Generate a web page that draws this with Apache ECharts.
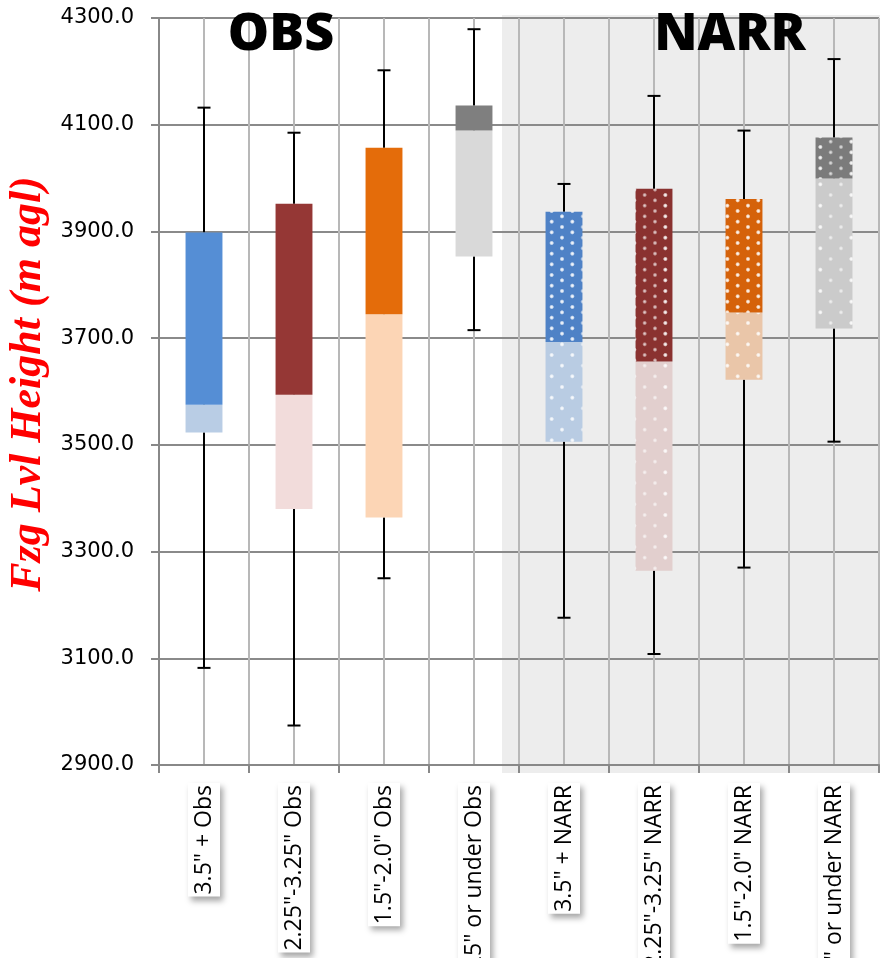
<!DOCTYPE html>
<html>
<head>
<meta charset="utf-8">
<script src="https://cdn.jsdelivr.net/npm/echarts@6/dist/echarts.min.js"></script>
<style>
  html, body { margin: 0; padding: 0; background: #ffffff; }
  #chart { width: 880px; height: 958px; }
</style>
</head>
<body>
<div id="chart"></div>
<script>
// Freezing level height distributions by hail size class (m agl)
const categories = [
  '3.5" + Obs', '2.25"-3.25" Obs', '1.5"-2.0" Obs', '1.25" or under Obs',
  '3.5" + NARR', '2.25"-3.25" NARR', '1.5"-2.0" NARR', '1.25" or under NARR'
];
const maxVals    = [4132, 4085, 4202, 4279, 3989, 4154, 4089, 4223];
const q3Vals     = [3898, 3952, 4057, 4136, 3937, 3980, 3961, 4076];
const medianVals = [3575, 3594, 3745, 4089, 3693, 3656, 3748, 3999];
const q1Vals     = [3523, 3380, 3364, 3853, 3506, 3264, 3622, 3718];
const minVals    = [3082, 2974, 3250, 3715, 3176, 3108, 3270, 3506];

const yTickMin = 2900, yTickMax = 4300, yTickStep = 200;

// upper (median→Q3) and lower (Q1→median) box colours
const upperColors = ['#558ED5', '#953735', '#E46C0A', '#7F7F7F', '#4F82C6', '#8A3230', '#D5620A', '#7B7B7B'];
const lowerColors = ['#B9CDE5', '#F2DCDB', '#FCD5B5', '#D9D9D9', '#B9CCE3', '#E2CFCE', '#EAC6A9', '#CBCBCB'];
const dottedFrom = 4; // model boxes use a dotted fill

// Staggered white-dot fill
function dotPattern(base, rowStep, alpha) {
  const colStep = 20.667;
  const w = 62, h = Math.round(rowStep * 6);
  const c = document.createElement('canvas');
  c.width = w; c.height = h;
  const ctx = c.getContext('2d');
  ctx.fillStyle = base;
  ctx.fillRect(0, 0, w, h);
  for (let k = 0; k < 6; k++) {
    const y = 3 + k * rowStep;
    const off = (k % 2) ? colStep / 2 : 0;
    for (let j = -1; j < 4; j++) {
      const x = 4 + off + j * colStep;
      for (const dx of [0, -w, w]) {
        for (const dy of [0, -h, h]) {
          const g = ctx.createRadialGradient(x + dx, y + dy, 0, x + dx, y + dy, 2.4);
          g.addColorStop(0, 'rgba(255,255,255,' + alpha + ')');
          g.addColorStop(0.5, 'rgba(255,255,255,' + (alpha * 0.65) + ')');
          g.addColorStop(1, 'rgba(255,255,255,0)');
          ctx.fillStyle = g;
          ctx.fillRect(x + dx - 3, y + dy - 3, 6, 6);
        }
      }
    }
  }
  return { image: c, repeat: 'repeat' };
}

const upperFill = upperColors.map((col, i) => i >= dottedFrom ? dotPattern(col, 5.333, 0.8) : col);
const lowerFill = lowerColors.map((col, i) => i >= dottedFrom ? dotPattern(col, 10.667, 0.75) : col);

const boxData = categories.map((c, i) => [i, minVals[i], q1Vals[i], medianVals[i], q3Vals[i], maxVals[i]]);

function renderBox(params, api) {
  const i = params.dataIndex;
  const x = api.value(0);
  const pMin = api.coord([x, api.value(1)]);
  const pQ1 = api.coord([x, api.value(2)]);
  const pMed = api.coord([x, api.value(3)]);
  const pQ3 = api.coord([x, api.value(4)]);
  const pMax = api.coord([x, api.value(5)]);
  const bw = api.size([1, 0])[0] * 0.41;
  const cap = 13;
  const cx = pMed[0];
  const line = { stroke: '#000', lineWidth: 2 };
  return {
    type: 'group',
    children: [
      { type: 'line', shape: { x1: cx, y1: pQ3[1], x2: cx, y2: pMax[1] }, style: line },
      { type: 'line', shape: { x1: cx - cap / 2, y1: pMax[1], x2: cx + cap / 2, y2: pMax[1] }, style: line },
      { type: 'line', shape: { x1: cx, y1: pQ1[1], x2: cx, y2: pMin[1] }, style: line },
      { type: 'line', shape: { x1: cx - cap / 2, y1: pMin[1], x2: cx + cap / 2, y2: pMin[1] }, style: line },
      { type: 'rect', shape: { x: cx - bw / 2, y: pMed[1], width: bw, height: pQ1[1] - pMed[1] },
        style: { fill: lowerFill[i] } },
      { type: 'rect', shape: { x: cx - bw / 2, y: pQ3[1], width: bw, height: pMed[1] - pQ3[1] },
        style: { fill: upperFill[i] } }
    ]
  };
}

const chart = echarts.init(document.getElementById('chart'), null, { renderer: 'canvas' });

chart.setOption({
  backgroundColor: '#ffffff',
  animation: false,
  grid: { left: 159, right: 1, top: 18, bottom: 193, containLabel: false, outerBoundsMode: 'none' },
  graphic: [
    { type: 'rect', z: -10, silent: true,
      shape: { x: 502, y: 15, width: 378, height: 758 },
      style: { fill: '#ededed' } },
    { type: 'text', z: 50, x: 281, y: 35,
      style: { text: 'OBS', font: '800 52px "Open Sans"', fill: '#000',
        align: 'center', verticalAlign: 'middle',
        shadowColor: 'rgba(0,0,0,0.45)', shadowBlur: 5, shadowOffsetX: 3, shadowOffsetY: 3 } },
    { type: 'text', z: 50, x: 730, y: 35,
      style: { text: 'NARR', font: '800 52px "Open Sans"', fill: '#000',
        align: 'center', verticalAlign: 'middle',
        shadowColor: 'rgba(0,0,0,0.45)', shadowBlur: 5, shadowOffsetX: 3, shadowOffsetY: 3 } },
    { type: 'text', z: 50, x: 29, y: 384, rotation: Math.PI / 2,
      style: { text: 'Fzg Lvl Height (m agl)', font: 'italic bold 44px "Liberation Serif"',
        fill: '#ff0000', align: 'center', verticalAlign: 'middle' } }
  ],
  xAxis: [
    {
      type: 'category',
      data: categories,
      boundaryGap: true,
      axisLine: { show: true, lineStyle: { color: '#888888', width: 2 } },
      axisTick: { show: true, length: 8, lineStyle: { color: '#888888', width: 2 } },
      splitLine: { show: false },
      axisLabel: {
        rotate: 90, interval: 0, margin: 18,
        fontFamily: 'Open Sans', fontSize: 23, color: '#000',
        lineHeight: 24,
        backgroundColor: '#ffffff', padding: [4, 2, 4, 2],
        shadowColor: 'rgba(0,0,0,0.35)', shadowBlur: 6, shadowOffsetX: 3, shadowOffsetY: 4
      }
    },
    {
      type: 'value', min: 0, max: 8, interval: 0.5,
      position: 'bottom',
      axisLine: { show: false }, axisTick: { show: false }, axisLabel: { show: false },
      splitLine: { show: true, lineStyle: { color: '#b8b8b8', width: 2 } }
    }
  ],
  yAxis: {
    type: 'value',
    min: yTickMin, max: yTickMax, interval: yTickStep,
    axisLine: { show: true, lineStyle: { color: '#888888', width: 2 } },
    axisTick: { show: true, length: 8, lineStyle: { color: '#888888', width: 2 } },
    splitLine: { show: true, lineStyle: { color: '#8a8a8a', width: 2 } },
    axisLabel: {
      margin: 25, fontFamily: 'DejaVu Sans', fontSize: 21, color: '#000',
      formatter: v => v.toFixed(1)
    }
  },
  series: [
    {
      type: 'custom',
      xAxisIndex: 0, yAxisIndex: 0,
      renderItem: renderBox,
      encode: { x: 0, y: [1, 2, 3, 4, 5] },
      data: boxData,
      z: 10
    }
  ]
});
</script>
</body>
</html>
